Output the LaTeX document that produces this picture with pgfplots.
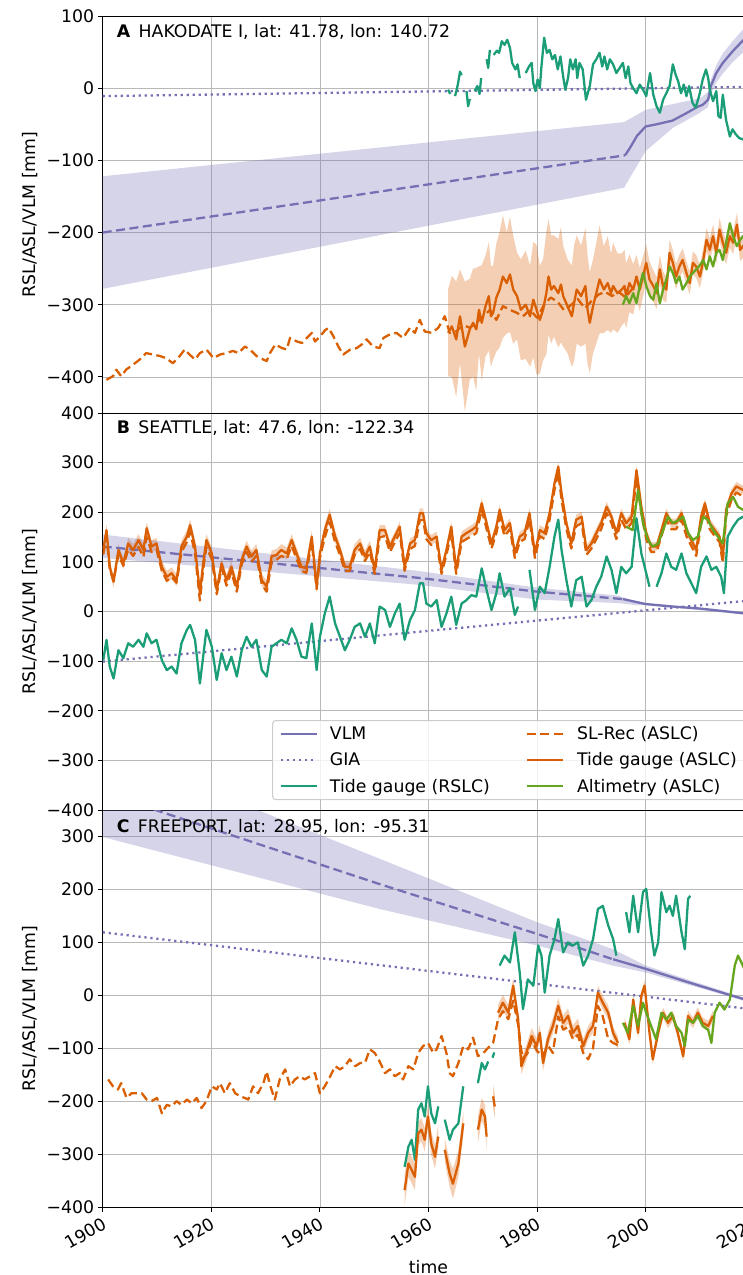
\documentclass[border=0pt]{standalone}
\usepackage{fontspec}
\setmainfont{DejaVu Sans}
\usepackage{pgfplots}
\pgfplotsset{compat=1.18}
\usepackage{pgfplotstable}
\usepgfplotslibrary{fillbetween}
\definecolor{vlm}{HTML}{7570B3}
\definecolor{rslc}{HTML}{1B9E77}
\definecolor{aslc}{HTML}{D95F02}
\definecolor{alt}{HTML}{66A61E}
\newcommand\lbl{\fontsize{17.3}{20.8}\selectfont}
\pgfplotsset{
 panel/.style={
  scale only axis, width=651.6pt, height=397pt,
  xmin=1900, xmax=2020, xtick={1900,1920,1940,1960,1980,2000,2020},
  grid=major, major grid style={line width=0.8pt, draw=black!28},
  tick align=outside, tick pos=left, major tick length=5pt,
  every tick/.style={line width=1pt, black},
  axis line style={line width=1pt},
  tick label style={font=\lbl},
  ylabel={RSL/ASL/VLM [mm]},
  every axis y label/.style={at={([xshift=-73pt]rel axis cs:0,0.5)}, rotate=90, anchor=center, font=\lbl},
  unbounded coords=jump,
 },
 lw/.style={line width=2.3pt, line join=round},
 vband/.style={fill=vlm, fill opacity=0.3, draw=none, forget plot},
 vdash/.style={draw=vlm, lw, dash pattern=on 9pt off 4.5pt, forget plot},
 vsolid/.style={draw=vlm, lw, forget plot},
 gia/.style={draw=vlm, lw, dash pattern=on 2.2pt off 3.8pt, forget plot},
 rs/.style={draw=rslc, lw, forget plot},
 slrec/.style={draw=aslc, lw, dash pattern=on 9pt off 4.5pt, forget plot},
 as/.style={draw=aslc, lw, forget plot},
 al/.style={draw=alt, lw, forget plot},
}
\newcommand\orband[1]{%
 \addplot[name path=bu, draw=none, forget plot] table[x=t, y expr=\thisrow{v}+\thisrow{e}] {#1};
 \addplot[name path=bl, draw=none, forget plot] table[x=t, y expr=\thisrow{v}-\thisrow{e}] {#1};
 \addplot[fill=aslc, fill opacity=0.3, draw=none, forget plot] fill between[of=bu and bl];
 \addplot[as] table[x=t, y=v] {#1};
}
% ---------------- Panel A data
\pgfplotstableread[row sep=\\]{t v e\\
1963.6 -339 60\\ 1964.3 -330 70\\ 1965.1 -348 80\\ 1965.8 -316 65\\ 1966.7 -358 90\\ 1967.6 -334 70\\ 1968.2 -325 75\\ 1968.8 -334 85\\ 1969.3 -307 60\\ 1969.8 -325 80\\ 1970.5 -302 70\\ 1971.1 -288 75\\ 1971.5 -316 70\\ 1971.9 -311 65\\ 1972.5 -290 75\\ 1973.1 -279 80\\ 1973.7 -261 85\\ 1974.4 -270 70\\ 1975 -258 80\\ 1975.6 -279 75\\ 1976.3 -288 60\\ 1977 -307 70\\ 1977.9 -300 75\\ 1978.7 -316 70\\ 1979.3 -293 80\\ 1979.9 -307 90\\ 1980.5 -321 75\\ 1981.1 -307 70\\ 1981.7 -284 85\\ 1982.1 -261 80\\ 1982.6 -279 75\\ 1983.1 -274 70\\ 1983.9 -284 75\\ 1984.4 -272 80\\ 1984.8 -288 70\\ 1985.6 -302 65\\ 1986.4 -316 70\\ 1986.8 -298 80\\ 1987.3 -279 75\\ 1988.1 -288 70\\ 1988.9 -274 80\\ 1989.3 -307 75\\ 1989.7 -325 70\\ 1990.3 -302 65\\ 1990.9 -284 70\\ 1991.5 -265 75\\ 1992.3 -279 60\\ 1993 -270 65\\ 1993.6 -284 55\\ 1994 -274 60\\ 1994.8 -284 55\\ 1995.6 -279 50\\ 1996.1 -274 50\\ 1996.4 -288 45\\ 1997 -270 40\\ 1997.7 -279 35\\ 1998.3 -261 30\\ 1998.9 -279 30\\ 1999.5 -261 28\\ 2000.1 -242 25\\ 2000.7 -265 25\\ 2001.4 -274 22\\ 2002 -284 22\\ 2002.6 -251 20\\ 2003.2 -274 20\\ 2003.8 -279 18\\ 2004.4 -228 18\\ 2005 -242 18\\ 2005.6 -261 18\\ 2006.2 -247 16\\ 2006.8 -238 16\\ 2007.5 -256 16\\ 2008.1 -270 16\\ 2008.7 -242 16\\ 2009.3 -247 16\\ 2010 -261 16\\ 2010.6 -238 16\\ 2011.2 -210 16\\ 2011.8 -224 16\\ 2012.4 -205 16\\ 2013 -228 16\\ 2013.6 -196 16\\ 2014.2 -214 16\\ 2014.8 -228 16\\ 2015.5 -205 16\\ 2016.1 -214 16\\ 2016.8 -189 16\\ 2017.4 -224 16\\ 2017.9 -219 16\\ 2019 -215 16\\ 2020 -210 16\\
}\tgA
% ---------------- Panel B data
\pgfplotstableread[row sep=\\]{t v e\\
1900.1 124 12\\ 1900.7 164 12\\ 1901.3 90 12\\ 1902 60 12\\ 1902.9 124 12\\ 1903.8 97 12\\ 1904.7 137 12\\ 1905.6 124 12\\ 1906.6 144 12\\ 1907.5 124 12\\ 1908.1 168 12\\ 1909 131 12\\ 1909.9 137 12\\ 1910.9 90 12\\ 1911.8 70 12\\ 1912.7 77 12\\ 1913.6 63 12\\ 1914.5 131 12\\ 1915.5 151 12\\ 1916.1 174 12\\ 1917 131 12\\ 1917.9 37 12\\ 1918.5 97 12\\ 1919.1 144 12\\ 1920.1 117 12\\ 1921 43 12\\ 1921.9 97 12\\ 1922.8 63 12\\ 1923.7 90 12\\ 1924.7 50 12\\ 1925.6 104 12\\ 1926.5 131 12\\ 1927.4 111 12\\ 1928.3 124 12\\ 1929.3 63 12\\ 1930.2 50 12\\ 1931.1 111 12\\ 1932 114 12\\ 1932.9 124 12\\ 1933.9 117 12\\ 1934.8 144 12\\ 1935.7 117 12\\ 1936.6 90 12\\ 1937.5 87 12\\ 1938.5 151 12\\ 1939.4 50 12\\ 1940 117 12\\ 1940.9 164 12\\ 1941.8 195 12\\ 1942.8 151 12\\ 1943.7 124 12\\ 1944.6 90 12\\ 1945.5 90 12\\ 1946.4 124 12\\ 1947.4 137 12\\ 1948.3 111 12\\ 1949.2 131 12\\ 1950.1 84 10\\ 1951 164 10\\ 1952 164 10\\ 1952.9 131 10\\ 1953.8 151 10\\ 1954.7 171 10\\ 1955.6 90 10\\ 1956.6 137 10\\ 1957.5 144 10\\ 1958.4 198 10\\ 1959 198 10\\ 1959.6 158 10\\ 1960.5 144 10\\ 1961.5 151 10\\ 1962.4 84 10\\ 1963.3 124 10\\ 1964.2 171 10\\ 1965.1 84 10\\ 1966.1 151 10\\ 1967 158 10\\ 1967.9 164 10\\ 1968.8 171 10\\ 1969.8 218 10\\ 1970.7 178 10\\ 1971.6 137 10\\ 1972.5 171 10\\ 1973.1 205 10\\ 1974 164 10\\ 1975 178 10\\ 1975.9 117 10\\ 1976.8 151 10\\ 1977.7 158 10\\ 1978.6 198 10\\ 1979.6 117 10\\ 1980.5 164 10\\ 1981.4 158 10\\ 1982.3 198 10\\ 1983.2 258 10\\ 1983.9 292 10\\ 1984.5 238 10\\ 1985.4 178 10\\ 1986.3 137 10\\ 1987.2 185 10\\ 1988.2 191 10\\ 1989.1 124 10\\ 1990 137 10\\ 1990.9 158 10\\ 1991.8 178 10\\ 1992.8 211 10\\ 1993.7 191 10\\ 1994.6 158 10\\ 1995.5 198 10\\ 1996.4 178 9\\ 1997.4 191 9\\ 1998.3 285 9\\ 1999.2 211 9\\ 2000.1 158 9\\ 2001 131 9\\ 2002 131 9\\ 2002.9 164 9\\ 2003.8 198 9\\ 2004.7 178 9\\ 2005.6 178 9\\ 2006.6 198 9\\ 2007.5 164 9\\ 2008.4 144 9\\ 2009.3 124 9\\ 2010.2 191 9\\ 2010.9 218 9\\ 2011.8 178 9\\ 2012.7 164 9\\ 2013.6 151 9\\ 2014.2 107 9\\ 2014.8 205 9\\ 2015.8 238 9\\ 2016.7 252 9\\ 2017.9 245 9\\ 2019 248 9\\ 2020 250 9\\
}\tgB
% ---------------- Panel C data
\pgfplotstableread[row sep=\\]{t v e\\
1955.6 -368 30\\ 1956.3 -318 25\\ 1956.9 -330 25\\ 1957.5 -343 25\\ 1958.1 -261 22\\ 1958.7 -254 22\\ 1959.3 -273 22\\ 1959.9 -229 22\\ 1960.5 -280 22\\ 1961.2 -305 22\\ 1961.8 -267 22\\
}\tgCa
\pgfplotstableread[row sep=\\]{t v e\\
1963 -292 22\\ 1963.9 -337 25\\ 1964.5 -356 28\\ 1965.5 -318 25\\ 1966.4 -242 22\\
}\tgCb
\pgfplotstableread[row sep=\\]{t v e\\
1969.1 -254 25\\ 1969.8 -216 22\\ 1970.4 -229 22\\ 1970.7 -267 25\\
}\tgCc
\pgfplotstableread[row sep=\\]{t v e\\
1971.9 -191 22\\ 1972.2 -210 22\\
}\tgCd
\pgfplotstableread[row sep=\\]{t v e\\
1972.8 -33 15\\ 1973.7 -14 15\\ 1974.7 -33 15\\ 1975.6 18 15\\ 1976.5 -45 15\\ 1977.1 -134 15\\ 1978 -109 15\\ 1979 -77 15\\ 1979.9 -96 15\\ 1980.5 -71 15\\ 1981.1 -128 15\\ 1982 -83 15\\ 1982.9 -58 15\\ 1983.9 -20 15\\ 1984.8 -52 14\\ 1985.7 -39 14\\ 1986.6 -71 14\\ 1987.5 -58 14\\ 1988.5 -96 14\\ 1989.4 -71 13\\ 1990.3 -58 13\\ 1991.2 5 13\\ 1992.1 -14 13\\ 1993.1 -33 13\\ 1994 -71 12\\ 1994.9 -90 12\\
}\tgCe
\pgfplotstableread[row sep=\\]{t v e\\
1996.1 -52 10\\ 1997 -83 10\\ 1997.7 -8 10\\ 1998.6 -71 10\\ 1999.2 -1 10\\ 1999.8 18 10\\ 2000.7 -71 10\\ 2001.3 -121 10\\ 2002.3 -71 10\\ 2003.2 -33 10\\ 2004.1 -52 10\\ 2005 -39 10\\ 2005.9 -71 10\\ 2006.9 -115 10\\ 2007.8 -39 10\\ 2008.7 -52 10\\ 2009.6 -33 10\\ 2010.5 -52 10\\ 2011.5 -58 10\\ 2012.4 -39 10\\
}\tgCf
\begin{document}
\begin{tikzpicture}
% ================= PANEL A
\begin{axis}[panel, at={(102.7pt,-16pt)}, anchor=north west,
  ymin=-450, ymax=100, ytick={-400,-300,-200,-100,0,100},
  yticklabels={−400,−300,−200,−100,0,100},
  xmajorticks=false]
\addplot[vband] coordinates {(1900,-122) (1996,-47) (2000,-30) (2005,-22) (2010,-14) (2011.5,-5) (2012,12) (2013,32) (2014.2,48) (2016,65) (2018,82) (2020,98) (2020,60) (2018,50) (2016,36) (2014.2,20) (2013,8) (2012,-8) (2011.5,-26) (2010,-34) (2005,-55) (2000,-87) (1996,-138) (1900,-278)} -- cycle;
\addplot[vdash] coordinates {(1900,-200) (1996.2,-93)};
\addplot[vsolid] coordinates {(1996.2,-93) (1997,-84) (1998.4,-66) (2000,-53) (2002,-50) (2004.9,-45) (2007.4,-35) (2009.5,-26) (2010.5,-23) (2011.5,-16) (2012,3) (2013,21) (2014.2,35) (2016,51) (2017.9,66) (2020,78)};
\addplot[gia] coordinates {(1900,-11) (2020,2)};
\addplot[rs] coordinates {(1963.6,-2) (1964,-8) (1964.4,nan) (1964.9,-11) (1965.4,5) (1965.8,23) (1966.1,18) (1966.5,nan) (1967,-4) (1967.3,-25) (1967.6,-15) (1968,nan) (1968.5,-4) (1969,3) (1969.4,-8) (1969.7,14) (1970.2,nan) (1970.7,40) (1971,28) (1971.3,53) (1971.6,nan) (1972,46) (1972.6,52) (1973,49) (1973.5,65) (1974,60) (1974.5,67) (1975,56) (1975.4,35) (1976,26) (1976.4,33) (1976.8,14) (1977.3,nan) (1977.9,21) (1978.5,30) (1979,35) (1979.3,7) (1979.7,-4) (1980.1,12) (1980.5,0) (1980.8,30) (1981.3,70) (1981.8,49) (1982.3,53) (1982.8,40) (1983.3,46) (1983.8,26) (1984.3,44) (1984.8,16) (1985.2,-2) (1985.7,14) (1986.1,40) (1986.6,26) (1987.1,40) (1987.4,14) (1987.8,35) (1988.4,26) (1989,-16) (1989.7,3) (1990.3,33) (1990.9,40) (1991.5,49) (1992,30) (1992.4,44) (1992.9,26) (1993.4,40) (1994,33) (1994.6,21) (1995.2,28) (1995.8,35) (1996.3,14) (1996.8,30) (1997.2,7) (1997.7,0) (1998.3,-7) (1998.9,5) (1999.5,-2) (2000.1,-11) (2000.8,21) (2001.4,-9) (2002,-25) (2002.6,-34) (2003.2,-16) (2003.8,-7) (2004.4,3) (2005,33) (2005.5,19) (2006,9) (2006.5,-7) (2007,5) (2007.5,-11) (2008,3) (2008.6,-20) (2009.2,-27) (2009.9,-9) (2010.5,12) (2011.1,26) (2011.5,14) (2011.8,-2) (2012.4,-18) (2013,-4) (2013.4,-39) (2013.8,-41) (2014.2,-9) (2014.8,-44) (2015.5,-67) (2016,-57) (2016.6,-64) (2017.2,-69) (2017.9,-71) (2018.5,-66) (2019.2,-75) (2020,-70)};
\addplot[slrec] coordinates {(1900.7,-404) (1901.9,-399) (1902.5,-390) (1903.4,-399) (1904.3,-390) (1905.6,-383) (1906.8,-376) (1908,-367) (1909.3,-369) (1910.5,-371) (1911.7,-374) (1912.9,-381) (1914.2,-371) (1915.1,-362) (1916,-369) (1917,-376) (1917.9,-367) (1919.1,-362) (1920.4,-374) (1921.6,-369) (1922.8,-367) (1924,-364) (1925,-367) (1926.2,-358) (1927.1,-362) (1928.3,-371) (1929.6,-376) (1930.2,-378) (1930.8,-367) (1931.8,-355) (1933,-360) (1933.9,-362) (1934.5,-346) (1935.8,-351) (1936.7,-353) (1937.6,-346) (1938.5,-339) (1939.1,-351) (1940,-344) (1941,-335) (1941.6,-332) (1942.5,-344) (1943.4,-358) (1944.3,-369) (1945.6,-362) (1946.8,-360) (1947.7,-355) (1948.6,-348) (1949.8,-358) (1951,-360) (1951.7,-346) (1952.9,-341) (1954.1,-339) (1955.3,-346) (1956.6,-332) (1957.5,-339) (1958.4,-321) (1959.3,-337) (1960.6,-339) (1961.8,-332) (1963,-316) (1963.9,-339) (1965.1,-337) (1966.4,-328) (1967.6,-332) (1968.8,-325) (1970.1,-316) (1971.3,-307) (1972.5,-321) (1973.7,-302) (1975,-307) (1976.2,-311) (1977.4,-316) (1978.7,-307) (1980,-318) (1981.3,-300) (1982.5,-290) (1983.8,-296) (1985,-308) (1986.3,-300) (1987.5,-292) (1988.8,-305) (1990,-295) (1991.3,-286) (1992.5,-282) (1993.8,-288) (1995,-282) (1996.3,-290) (1997.5,-278)};
\orband{\tgA}
\addplot[al] coordinates {(1995.8,-300) (1996.4,-288) (1997,-298) (1997.7,-284) (1998.3,-298) (1998.9,-274) (1999.5,-256) (2000.1,-274) (2000.8,-288) (2001.4,-293) (2002,-270) (2002.6,-298) (2003.2,-279) (2003.8,-265) (2004.4,-247) (2005,-256) (2005.6,-270) (2006.2,-261) (2006.8,-279) (2007.5,-270) (2008.1,-261) (2008.7,-256) (2009.3,-251) (2010,-245) (2010.6,-238) (2011.2,-251) (2011.8,-233) (2012.4,-247) (2013,-228) (2013.6,-224) (2014.2,-238) (2014.8,-214) (2015.5,-187) (2016.1,-205) (2016.8,-219) (2017.4,-210) (2017.9,-205) (2019,-212) (2020,-215)};
\node[anchor=base west, inner sep=0pt, font=\lbl] at ([xshift=14pt,yshift=-21pt]rel axis cs:0,1) {\textbf{A}\, HAKODATE I, lat: 41.78, lon: 140.72};
\end{axis}
% ================= PANEL B
\begin{axis}[panel, at={(102.7pt,-413pt)}, anchor=north west,
  ymin=-400, ymax=400, ytick={-400,-300,-200,-100,0,100,200,300,400},
  yticklabels={−400,−300,−200,−100,0,100,200,300,400},
  xmajorticks=false,
  legend columns=2, legend cell align=left,
  legend image code/.code={\draw[#1] (0pt,0pt) -- (36pt,0pt);},
  legend style={at={(rel axis cs:1,0)}, anchor=south east, xshift=-8pt, yshift=10pt,
    draw=black!20, line width=1pt, rounded corners=3pt, fill=white, fill opacity=0.8, text opacity=1,
    font=\lbl, inner xsep=7pt, inner ysep=4pt, row sep=7.5pt,
    /tikz/column 1/.style={column sep=10pt}, /tikz/column 2/.style={column sep=34pt}, /tikz/column 3/.style={column sep=11pt}}]
\addplot[vband] coordinates {(1900,155) (1958,82) (1980,48) (1995,32) (1998,20) (2000,17) (2020,-4) (2020,-8) (2000,13) (1998,13) (1995,17) (1980,24) (1958,54) (1900,108)} -- cycle;
\addplot[vdash] coordinates {(1900,131) (1958,68) (1980,40) (1995.8,25)};
\addplot[vsolid] coordinates {(1995.8,25) (2000,15) (2005,10) (2010,6) (2015,0) (2020,-6)};
\addplot[gia] coordinates {(1900,-101) (2020,23)};
\addplot[rs] coordinates {(1900.1,-98)(1900.7,-57)(1901.3,-111)(1902,-135)(1902.9,-78)(1903.8,-94)(1904.7,-64)(1905.6,-71)(1906.6,-57)(1907.5,-71)(1908.1,-44)(1909,-64)(1909.9,-57)(1910.9,-98)(1911.8,-118)(1912.7,-111)(1913.6,-125)(1914.5,-64)(1915.5,-37)(1916.1,-27)(1917,-57)(1917.9,-145)(1918.5,-91)(1919.1,-37)(1920.1,-71)(1921,-138)(1921.9,-84)(1922.8,-118)(1923.7,-91)(1924.7,-131)(1925.6,-78)(1926.5,-51)(1927.4,-71)(1928.3,-57)(1929.3,-118)(1930.2,-131)(1931.1,-71)(1932,-64)(1932.9,-57)(1933.9,-64)(1934.8,-34)(1935.7,-57)(1936.6,-91)(1937.5,-94)(1938.5,-24)(1939.4,-118)(1940,-51)(1940.9,-4)(1941.8,30)(1942.8,-24)(1943.7,-51)(1944.6,-78)(1945.5,-57)(1946.4,-31)(1947.4,-24)(1948.3,-51)(1949.2,-24)(1950.1,-64)(1951,10)(1952,3)(1952.9,-31)(1953.8,-4)(1954.7,16)(1955.6,-57)(1956.6,-17)(1957.5,3)(1958.4,57)(1959,57)(1959.6,16)(1960.5,10)(1961.5,23)(1962.4,-31)(1963.3,-4)(1964.2,30)(1965.1,-27)(1966.1,16)(1967,23)(1967.9,33)(1968.8,30)(1969.8,87)(1970.7,43)(1971.6,3)(1972.5,37)(1973.1,77)(1974,30)(1975,47)(1975.9,-7)(1976.5,10)(1977.5,nan)(1978.6,84)(1979.6,3)(1980.5,50)(1981.4,37)(1982.3,90)(1983.2,151)(1983.9,185)(1984.5,124)(1985.4,63)(1986.3,10)(1987.2,63)(1988.2,70)(1989.1,10)(1990,23)(1990.9,50)(1991.8,70)(1992.8,111)(1993.7,84)(1994.6,37)(1995.5,90)(1996.4,77)(1997.4,90)(1998.3,188)(1999.2,117)(2000.1,77)(2000.7,50)(2001.3,nan)(2002,50)(2002.9,77)(2003.8,117)(2004.7,90)(2005.6,84)(2006.6,117)(2007.5,77)(2008.4,57)(2009.3,37)(2010.2,90)(2011.2,111)(2012.1,84)(2013,90)(2013.9,70)(2014.4,37)(2015.1,151)(2016.1,171)(2017,185)(2017.9,191)(2019,180)(2020,185)};
\addplot[slrec] coordinates {(1900.1,115)(1900.7,150)(1901.3,85)(1902,62)(1902.9,115)(1903.8,92)(1904.7,125)(1905.6,112)(1906.6,130)(1907.5,110)(1908.1,150)(1909,120)(1909.9,125)(1910.9,82)(1911.8,62)(1912.7,70)(1913.6,58)(1914.5,120)(1915.5,140)(1916.1,160)(1917,118)(1917.9,22)(1918.5,85)(1919.1,130)(1920.1,105)(1921,35)(1921.9,88)(1922.8,52)(1923.7,80)(1924.7,40)(1925.6,95)(1926.5,120)(1927.4,100)(1928.3,112)(1929.3,55)(1930.2,40)(1931.1,100)(1932,104)(1932.9,112)(1933.9,106)(1934.8,132)(1935.7,106)(1936.6,82)(1937.5,78)(1938.5,140)(1939.4,45)(1940,108)(1940.9,150)(1941.8,180)(1942.8,140)(1943.7,114)(1944.6,82)(1945.5,82)(1946.4,114)(1947.4,126)(1948.3,102)(1949.2,120)(1950.1,76)(1951,150)(1952,152)(1952.9,120)(1953.8,140)(1954.7,158)(1955.6,82)(1956.6,126)(1957.5,132)(1958.4,184)(1959,185)(1959.6,146)(1960.5,134)(1961.5,140)(1962.4,76)(1963.3,114)(1964.2,158)(1965.1,76)(1966.1,140)(1967,146)(1967.9,152)(1968.8,158)(1969.8,205)(1970.7,166)(1971.6,127)(1972.5,158)(1973.1,190)(1974,152)(1975,166)(1975.9,108)(1976.8,140)(1977.7,146)(1978.6,185)(1979.6,108)(1980.5,152)(1981.4,146)(1982.3,185)(1983.2,245)(1983.9,280)(1984.5,225)(1985.4,166)(1986.3,127)(1987.2,172)(1988.2,178)(1989.1,114)(1990,127)(1990.9,146)(1991.8,166)(1992.8,198)(1993.7,178)(1994.6,146)(1995.5,185)(1996.4,166)(1997.4,178)(1998.3,270)(1999.2,198)(2000.1,146)(2001,120)(2002,120)(2002.9,152)(2003.8,185)(2004.7,166)(2005.6,166)(2006.6,185)(2007.5,152)(2008.4,132)(2009.3,112)(2010.2,178)(2010.9,205)(2011.8,166)(2012.7,152)(2013.6,140)(2014.2,98)(2014.8,192)(2015.8,225)(2016.7,240)(2017.9,232)(2020,238)};
\orband{\tgB}
\addplot[al] coordinates {(1996.4,171)(1997.6,164)(1998.6,245)(1999.5,178)(2000.4,144)(2001.3,131)(2002.3,137)(2003.2,164)(2004.1,191)(2005,178)(2006,184)(2006.9,191)(2007.8,158)(2008.7,144)(2009.6,151)(2010.6,191)(2011.5,184)(2012.4,164)(2013.3,151)(2014.2,137)(2015.1,218)(2016.1,231)(2017,211)(2017.9,205)(2019,208)(2020,210)};
\node[anchor=base west, inner sep=0pt, font=\lbl] at ([xshift=14pt,yshift=-20pt]rel axis cs:0,1) {\textbf{B}\, SEATTLE, lat: 47.6, lon: -122.34};
\addlegendimage{draw=vlm, line width=2.3pt}\addlegendentry{VLM}
\addlegendimage{draw=aslc, line width=2.3pt, dash pattern=on 9pt off 4.5pt}\addlegendentry{SL-Rec (ASLC)}
\addlegendimage{draw=vlm, line width=2.3pt, dash pattern=on 2.2pt off 3.8pt}\addlegendentry{GIA}
\addlegendimage{draw=aslc, line width=2.3pt}\addlegendentry{Tide gauge (ASLC)}
\addlegendimage{draw=rslc, line width=2.3pt}\addlegendentry{Tide gauge (RSLC)}
\addlegendimage{draw=alt, line width=2.3pt}\addlegendentry{Altimetry (ASLC)}
\end{axis}
% ================= PANEL C
\begin{axis}[panel, at={(102.7pt,-810pt)}, anchor=north west,
  ymin=-400, ymax=350, ytick={-400,-300,-200,-100,0,100,200,300},
  yticklabels={−400,−300,−200,−100,0,100,200,300},
  xticklabels={1900,1920,1940,1960,1980,2000,2020},
  xticklabel style={rotate=30, anchor=north east},
  xlabel={time}, every axis x label/.style={at={(rel axis cs:0.5,0)}, anchor=base, yshift=-66pt, font=\lbl}]
\addplot[vband] coordinates {(1900,467) (1951,258) (1980,138) (1994,87) (2000,56) (2016,2) (2020,-10) (2020,-17) (2016,-4) (2000,43) (1994,56) (1980,94) (1951,163) (1900,299)} -- cycle;
\addplot[vdash] coordinates {(1900,383) (1951,210) (1980,116) (1994,68)};
\addplot[vsolid] coordinates {(1994,68) (2000,50) (2008,24) (2016,-1) (2020,-13)};
\addplot[gia] coordinates {(1900,119) (2020,-27)};
\addplot[rs] coordinates {(1955.6,-324)(1956.3,-286)(1956.9,-273)(1957.5,-311)(1958.1,-216)(1958.7,-204)(1959.3,-229)(1959.9,-172)(1960.5,-223)(1961.2,-242)(1961.8,-210)(1962.4,nan)(1963,-235)(1963.9,-273)(1964.5,-254)(1965.5,-242)(1966.4,-172)(1967.5,nan)(1969.1,-166)(1969.8,-128)(1970.4,-140)(1971,-125)(1971.4,nan)(1971.8,-118)(1972.1,-108)(1972.6,nan)(1973.1,56)(1974,75)(1975,62)(1975.9,119)(1976.8,43)(1977.4,-26)(1978.3,30)(1979.3,18)(1980.2,94)(1980.8,75)(1981.4,5)(1982.3,75)(1983.2,106)(1983.9,144)(1984.8,81)(1985.7,100)(1986.6,94)(1987.5,100)(1988.5,56)(1989.4,75)(1990.3,106)(1991.2,163)(1992.1,169)(1993.1,132)(1994,106)(1994.6,75)(1995.5,nan)(1996.4,157)(1997,119)(1997.7,188)(1998.6,119)(1999.5,195)(2000.1,201)(2001,119)(2001.6,75)(2002.3,100)(2002.9,195)(2003.8,157)(2004.4,169)(2005,150)(2005.6,188)(2006.6,119)(2007.2,87)(2007.8,182)(2008.2,188)};
\addplot[slrec] coordinates {(1901,-159)(1901.9,-172)(1902.8,-178)(1903.4,-166)(1904.4,-194)(1905.3,-185)(1906.2,-185)(1907.2,-185)(1908.1,-197)(1909,-200)(1910,-194)(1910.9,-223)(1911.8,-207)(1912.7,-210)(1913.6,-200)(1914.5,-207)(1915.5,-197)(1916.4,-204)(1917.3,-194)(1918.2,-213)(1919.1,-200)(1920.1,-172)(1921,-178)(1921.6,-166)(1922.5,-185)(1923.4,-166)(1924.4,-185)(1925.3,-191)(1926.2,-194)(1926.8,-197)(1927.7,-172)(1928.6,-185)(1929.6,-166)(1930.2,-144)(1930.8,-169)(1931.7,-197)(1932.6,-159)(1933.6,-140)(1934.5,-172)(1935.4,-159)(1936.3,-153)(1937.2,-159)(1938.2,-153)(1939.1,-147)(1940,-185)(1940.9,-172)(1941.9,-153)(1942.8,-134)(1943.7,-140)(1944.6,-134)(1945.5,-121)(1946.5,-134)(1947.4,-128)(1948.3,-128)(1949.2,-102)(1950.1,-109)(1951,-125)(1952,-147)(1952.9,-140)(1953.8,-153)(1954.7,-147)(1955.3,-159)(1956.3,-134)(1957.2,-140)(1958.1,-109)(1959,-96)(1959.9,-90)(1960.9,-109)(1961.5,-102)(1962.4,-77)(1963.3,-109)(1963.9,-147)(1964.5,-153)(1965.5,-128)(1966.4,-96)(1967.3,-102)(1968.2,-80)(1969.1,-115)(1970.1,-109)(1971,-99)(1971.9,-90)(1972.8,-46)(1973.7,-30)(1974.7,-45)(1975.6,-10)(1976.5,-55)(1977.3,-120)(1978.2,-110)(1979,-85)(1980,-105)(1981,-115)(1982,-95)(1982.9,-109)(1983.9,-40)(1984.8,-65)(1985.7,-60)(1986.6,-83)(1987.5,-75)(1988.5,-109)(1989.4,-121)(1990.3,-100)(1991.2,-20)(1992.1,-40)(1993.1,-83)(1994,-90)(1995,-95)};
\orband{\tgCa}
\orband{\tgCb}
\orband{\tgCc}
\orband{\tgCd}
\orband{\tgCe}
\orband{\tgCf}
\addplot[al] coordinates {(1995.8,-52)(1996.7,-71)(1997.7,-20)(1998.6,-58)(1999.5,-14)(2000.1,-33)(2001,-58)(2001.9,-83)(2002.9,-33)(2003.8,-46)(2004.7,-33)(2005.6,-58)(2006.6,-71)(2007.2,-96)(2007.8,-46)(2008.7,-52)(2009.6,-39)(2010.5,-58)(2011.5,-65)(2012.1,-90)(2012.7,-33)(2013.6,-14)(2014.5,-27)(2015.5,-8)(2016.4,56)(2017,75)(2017.9,56)(2019,30)(2020,20)};
\node[anchor=base west, inner sep=0pt, font=\lbl] at ([xshift=14pt,yshift=-22pt]rel axis cs:0,1) {\textbf{C}\, FREEPORT, lat: 28.95, lon: -95.31};
\end{axis}
\pgfresetboundingbox
\path[use as bounding box] (0pt,0pt) rectangle (743pt,-1275pt);
\end{tikzpicture}
\end{document}
